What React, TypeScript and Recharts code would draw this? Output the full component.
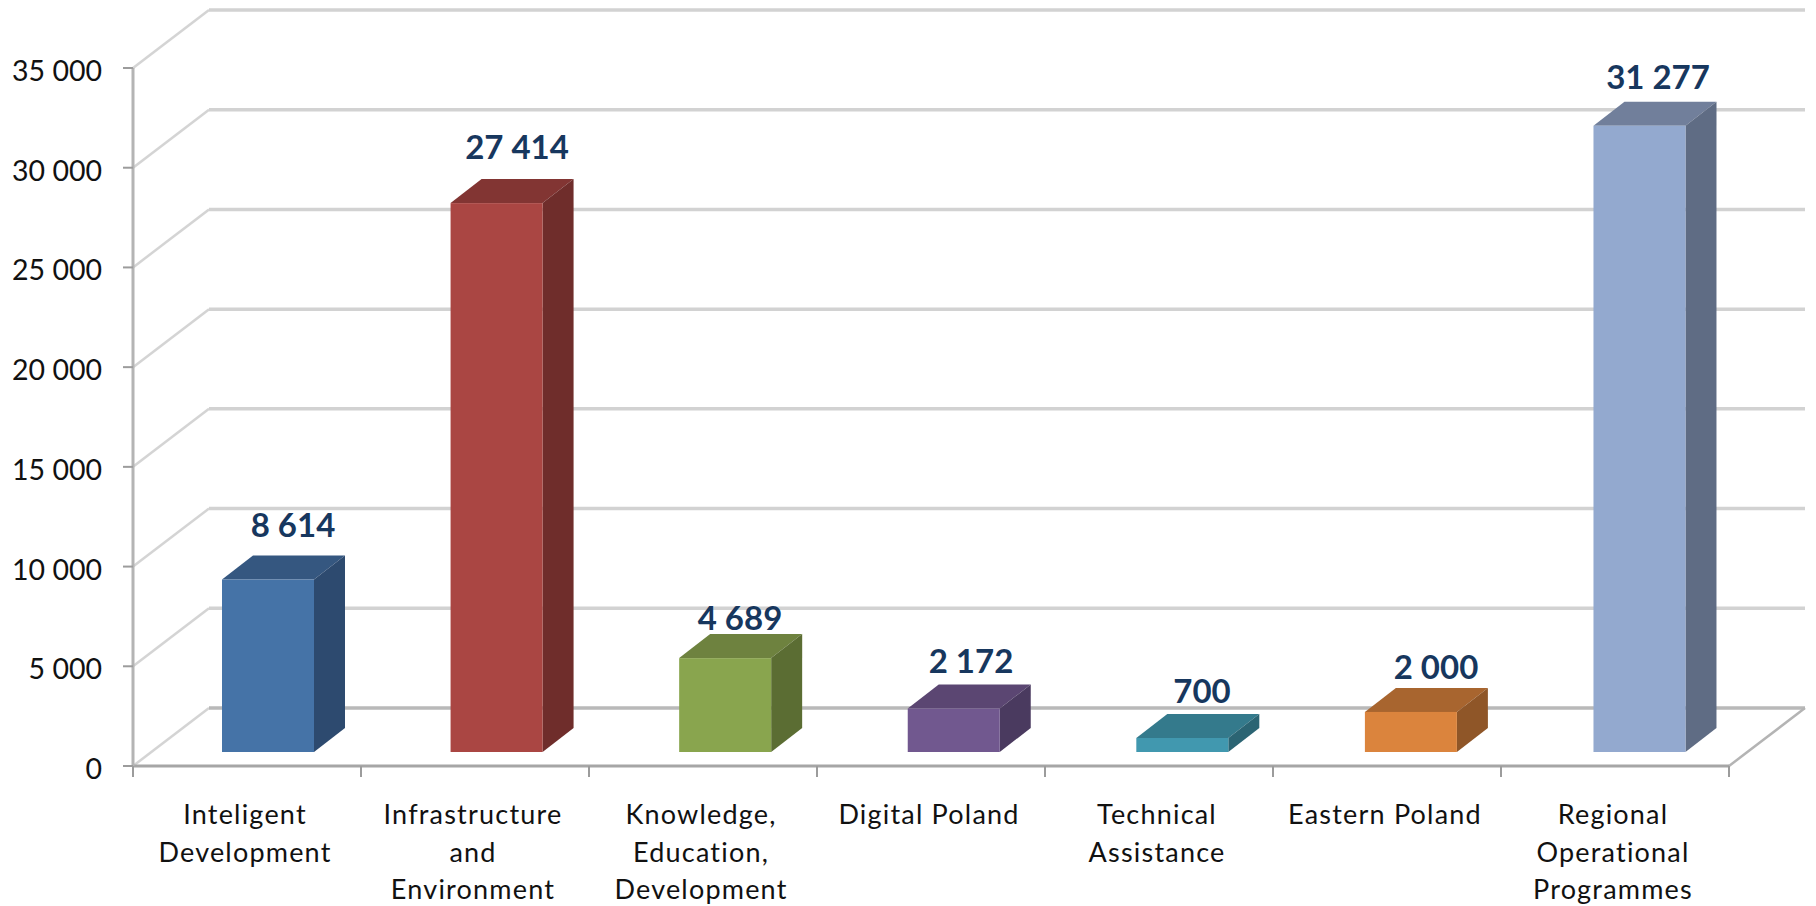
import React from 'react';
import { Bar, BarChart, CartesianGrid, LabelList, XAxis, YAxis } from 'recharts';

const categories = [
  'Inteligent Development',
  'Infrastructure and Environment',
  'Knowledge, Education, Development',
  'Digital Poland',
  'Technical Assistance',
  'Eastern Poland',
  'Regional Operational Programmes',
];
const tickLines = [
  ['Inteligent', 'Development'],
  ['Infrastructure', 'and', 'Environment'],
  ['Knowledge,', 'Education,', 'Development'],
  ['Digital Poland'],
  ['Technical', 'Assistance'],
  ['Eastern Poland'],
  ['Regional', 'Operational', 'Programmes'],
];
const values = [8614, 27414, 4689, 2172, 700, 2000, 31277];
const yTicks = [0, 5000, 10000, 15000, 20000, 25000, 30000, 35000];

const frontColors = ['#4573A7', '#AA4643', '#89A54E', '#71588F', '#4198AF', '#DB843D', '#93A9CF'];
const topColors = ['#355780', '#823533', '#6E823F', '#5B4672', '#347A8C', '#A8652F', '#717F9B'];
const sideColors = ['#2D4A6F', '#6F2D2B', '#5B6D33', '#4A3A5F', '#2B6473', '#8F5628', '#5F6C84'];

// hand-tuned nudges for the value labels, the 3D box pushes them off the bar centre
const labelDx = [46, 42, 37, 40, 43, 49, 43];
const labelDy = [-70, -73, -55, -63, -62, -60, -66];

const WIDTH = 1816;
const HEIGHT = 906;
const MARGIN = { top: 68, right: 87, left: 0, bottom: 0 };
const Y_AXIS_WIDTH = 133;
const X_AXIS_HEIGHT = 140;
const PLOT_BOTTOM = HEIGHT - X_AXIS_HEIGHT;
const BAND = (WIDTH - Y_AXIS_WIDTH - MARGIN.right) / categories.length;

// depth of the fake 3D walls and of the boxes standing on the floor
const WALL_DX = 76;
const WALL_DY = -58;
const BOX_SHIFT_X = 21;
const BOX_SHIFT_STEP = 0.58; // boxes sit on a slightly wider spacing than the axis ticks
const BOX_SHIFT_Y = -14;
const BOX_HEIGHT_SCALE = 1.004;
const BOX_DX = 31;
const BOX_DY = -24;

const FONT = 'Lato, Carlito, sans-serif';
const formatNumber = (v: number) => String(v).replace(/\B(?=(\d{3})+$)/g, ' ');

const wallLine = (props: any) => {
  const { x1, x2, y1, index } = props;
  const isFloor = Math.abs(y1 - PLOT_BOTTOM) < 1;
  const bx = x1 + WALL_DX;
  const ex = x2 + WALL_DX;
  const by = y1 + WALL_DY;
  return (
    <g key={`wall-${index}`}>
      <path d={`M${x1},${y1}L${bx},${by}`} fill="none" stroke="#D4D4D4" strokeWidth={2.5} />
      <path d={`M${bx},${by}L${ex},${by}`} fill="none" stroke={isFloor ? '#B9B9B9' : '#D2D2D2'} strokeWidth={3.5} />
      {isFloor && <path d={`M${ex},${by}L${x2},${y1}`} fill="none" stroke="#B4B4B4" strokeWidth={2.5} />}
    </g>
  );
};

const Box3D = (props: any) => {
  const { x, y, width, height, index } = props;
  const left = x + BOX_SHIFT_X + index * BOX_SHIFT_STEP;
  const right = left + width;
  const bottom = y + height + BOX_SHIFT_Y;
  const faceHeight = height * BOX_HEIGHT_SCALE;
  const top = bottom - faceHeight;
  return (
    <g>
      <polygon
        points={`${left},${top} ${left + BOX_DX},${top + BOX_DY} ${right + BOX_DX},${top + BOX_DY} ${right},${top}`}
        fill={topColors[index]}
      />
      <polygon
        points={`${right},${top} ${right + BOX_DX},${top + BOX_DY} ${right + BOX_DX},${bottom + BOX_DY} ${right},${bottom}`}
        fill={sideColors[index]}
      />
      <rect x={left} y={top} width={width} height={faceHeight} fill={frontColors[index]} />
    </g>
  );
};

const ValueLabel = (props: any) => {
  const { x, y, width, index, value } = props;
  return (
    <text
      x={x + width / 2 + labelDx[index]}
      y={y + labelDy[index]}
      textAnchor="middle"
      dominantBaseline="central"
      fontFamily={FONT}
      fontWeight={700}
      fontSize={33}
      fill="#17375E"
    >
      {formatNumber(value)}
    </text>
  );
};

const CategoryTick = (props: any) => {
  const { x, y, index } = props;
  const lines = tickLines[index];
  const last = index === categories.length - 1;
  return (
    <g>
      <line x1={x - BAND / 2} x2={x - BAND / 2} y1={PLOT_BOTTOM} y2={PLOT_BOTTOM + 11} stroke="#9C9C9C" strokeWidth={2} />
      {last && <line x1={x + BAND / 2} x2={x + BAND / 2} y1={PLOT_BOTTOM} y2={PLOT_BOTTOM + 11} stroke="#9C9C9C" strokeWidth={2} />}
      <text textAnchor="middle" fontFamily={FONT} fontSize={27} fill="#111" letterSpacing={1.2}>
        {lines.map((line, i) => (
          <tspan key={line} x={x - 2} y={y + 50 + i * 37.6}>
            {line}
          </tspan>
        ))}
      </text>
    </g>
  );
};

const ValueTick = (props: any) => {
  const { x, y, payload } = props;
  return (
    <text x={x} y={y + 2} textAnchor="end" dominantBaseline="central" fontFamily={FONT} fontSize={28.5} fill="#111">
      {formatNumber(payload.value)}
    </text>
  );
};

export default function App() {
  const data = categories.map((name, i) => ({ name, value: values[i] }));
  return (
    <div style={{ position: 'absolute', left: 0, top: 0, width: WIDTH, height: HEIGHT, background: '#fff' }}>
      <BarChart width={WIDTH} height={HEIGHT} data={data} margin={MARGIN} barSize={92}>
        <CartesianGrid vertical={false} horizontal={wallLine} />
        <XAxis
          dataKey="name"
          height={X_AXIS_HEIGHT}
          interval={0}
          tick={<CategoryTick />}
          tickLine={false}
          axisLine={{ stroke: '#A6A6A6', strokeWidth: 3 }}
        />
        <YAxis
          width={Y_AXIS_WIDTH}
          domain={[0, 35000]}
          ticks={yTicks}
          tickSize={10}
          tickMargin={21}
          tick={<ValueTick />}
          tickLine={{ stroke: '#9C9C9C', strokeWidth: 2 }}
          axisLine={{ stroke: '#B4B4B4', strokeWidth: 3 }}
        />
        <Bar dataKey="value" isAnimationActive={false} shape={<Box3D />}>
          <LabelList dataKey="value" content={<ValueLabel />} />
        </Bar>
      </BarChart>
    </div>
  );
}
